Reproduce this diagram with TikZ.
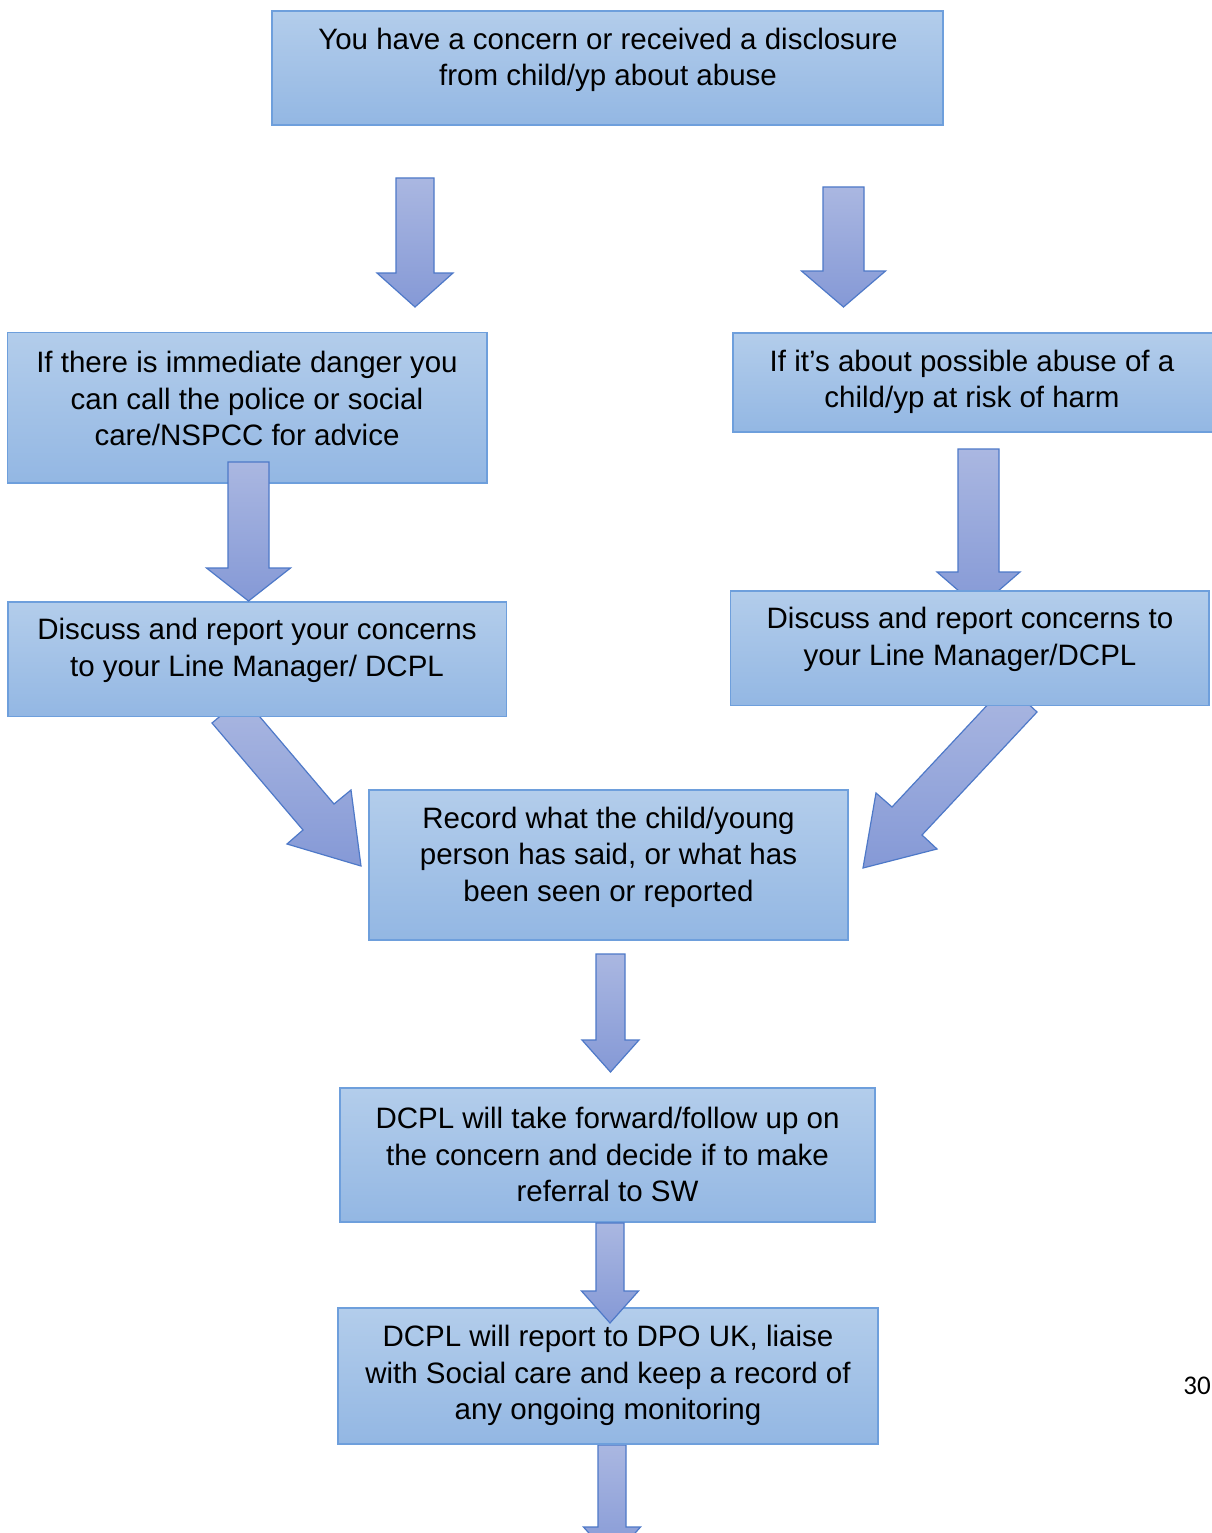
\documentclass[tikz,border=0pt]{standalone}
\usepackage{fontspec}
\setmainfont{Liberation Sans}
\newfontfamily\pagefont{Carlito}
\definecolor{boxtop}{HTML}{B3CDEB}
\definecolor{boxbot}{HTML}{93B7E3}
\definecolor{boxline}{HTML}{6E9FDC}
\definecolor{arrtop}{HTML}{AAB7E1}
\definecolor{arrbot}{HTML}{8599D6}
\definecolor{arrline}{HTML}{4E79C8}
\tikzset{
  box/.style={rectangle, inner sep=0pt, draw=boxline, line width=1.3pt,
    top color=boxtop, bottom color=boxbot},
  txt/.style={inner sep=0pt, align=center, text=black,
    font=\fontsize{29.5}{36.5}\selectfont},
  blockarrow/.style={draw=arrline, line width=1.2pt, line join=miter,
    top color=arrtop, bottom color=arrbot}
}
% x, shaft half width, y top, y head, head half width, y tip
\newcommand{\bdarrow}[6]{%
  \path[blockarrow] (#1-#2,#3) -- (#1+#2,#3) -- (#1+#2,#4) -- (#1+#5,#4)
    -- (#1,#6) -- (#1-#5,#4) -- (#1-#2,#4) -- cycle;}
\begin{document}
\begin{tikzpicture}[x=1pt,y=-1pt]
\useasboundingbox (0,0) rectangle (1211,1533);
\fill[white] (0,0) rectangle (1211,1533);

% arrows lying under boxes
\bdarrow{415}{19}{178}{273}{38}{307}
\bdarrow{843.5}{20.5}{187}{271}{42}{307}
\bdarrow{978.5}{20.5}{449}{572}{41.5}{608}
\bdarrow{612}{14}{1445}{1527}{28.5}{1559}
\bdarrow{610.5}{14.5}{954}{1040}{28.5}{1072}
% diagonal arrows
\path[blockarrow] (243,697) -- (334,804) -- (351,790) -- (361,866)
  -- (287,844) -- (303,830) -- (212,723) -- cycle;
\path[blockarrow] (1007,684) -- (1037,712) -- (922,835) -- (937,849)
  -- (863,868) -- (876,793) -- (892,807) -- cycle;

% boxes
\node[box, minimum width=671pt, minimum height=114pt] (top) at (607.5,68) {};
\node[txt] (toptxt) at (608,60) {You have a concern or received a disclosure\\from child/yp about abuse};

\node[box, minimum width=479.5pt, minimum height=150.5pt] (left1) at (247.25,407.75) {};
\node[txt] (left1txt) at (247,398.5) {If there is immediate danger you\\can call the police or social\\care/NSPCC for advice};

\node[box, minimum width=487pt, minimum height=99pt] (right1) at (976.5,382.5) {};
\node[txt] (right1txt) at (972,382) {If it’s about possible abuse of a\\child/yp at risk of harm};

\node[box, minimum width=478.5pt, minimum height=114.5pt] (right2) at (969.75,648.25) {};
\node[txt] (right2txt) at (970,639.5) {Discuss and report concerns to\\your Line Manager/DCPL};

\node[box, minimum width=498.5pt, minimum height=114.5pt] (left2) at (257.25,659.25) {};
\node[txt] (left2txt) at (257,650.5) {Discuss and report your concerns\\to your Line Manager/ DCPL};

\node[box, minimum width=479pt, minimum height=150pt] (record) at (608.5,865) {};
\node[txt] (recordtxt) at (608.5,857) {Record what the child/young\\person has said, or what has\\been seen or reported};

\node[box, minimum width=535pt, minimum height=134pt] (dcpl1) at (607.5,1155) {};
\node[txt] (dcpl1txt) at (607.5,1154.5) {DCPL will take forward/follow up on\\the concern and decide if to make\\referral to SW};

\node[box, minimum width=540pt, minimum height=136pt] (dcpl2) at (608,1376) {};
\node[txt] (dcpl2txt) at (608,1375.5) {DCPL will report to DPO UK, liaise\\with Social care and keep a record of\\any ongoing monitoring};

% arrows lying over boxes
\bdarrow{248.5}{20.5}{462}{568}{42}{601}
\bdarrow{610}{14}{1223}{1291}{28.5}{1323}

% page number
\node[inner sep=0pt, font=\pagefont\fontsize{27}{30}\selectfont] (pageno) at (1197,1386) {30};
\end{tikzpicture}
\end{document}
